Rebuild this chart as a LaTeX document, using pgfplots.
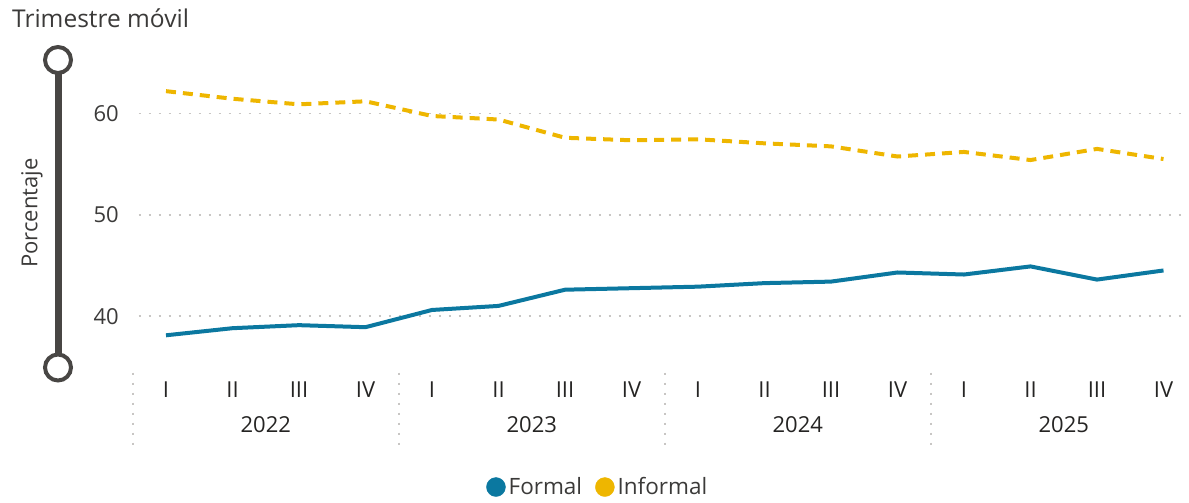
\documentclass[border=0pt]{standalone}
\usepackage{pgfplots}
\pgfplotsset{compat=1.18}
\usepackage{fontspec}
\setmainfont{Open Sans}
\definecolor{formal}{HTML}{0B78A0}
\definecolor{informal}{HTML}{EEB600}
\definecolor{txt}{HTML}{3B3A39}
\definecolor{tick}{HTML}{252423}
\definecolor{gridc}{HTML}{C8C6C4}
\definecolor{slider}{HTML}{484644}
\begin{document}
\begin{tikzpicture}[x=1pt,y=1pt]
\useasboundingbox (0,0) rectangle (1189,503);
\node[anchor=base west, inner sep=0pt, font=\fontsize{24.5}{28}\selectfont, text=txt] at (12,475.5) {Trimestre móvil};
\draw[slider, line width=7] (58,443) -- (58,135.5);
\draw[slider, line width=4, fill=white] (58,443) circle (13);
\draw[slider, line width=4, fill=white] (58,135.5) circle (13);
\node[rotate=90, inner sep=0pt, font=\fontsize{22}{26}\selectfont, text=txt] at (32,290) {Porcentaje};
\begin{axis}[
  at={(132.75pt,136.3pt)}, anchor=south west,
  scale only axis, width=1064pt, height=303.9pt,
  xmin=-0.5, xmax=15.5, ymin=35, ymax=65,
  clip=false,
  axis line style={draw=none}, tick style={draw=none},
  xtick={0,...,15},
  xticklabels={I,II,III,IV,I,II,III,IV,I,II,III,IV,I,II,III,IV},
  ytick={40,50,60},
  /pgf/number format/assume math mode=true,
  xticklabel style={anchor=base, inner sep=0pt, yshift=-30.6pt, font=\fontsize{22}{26}\selectfont, text=tick},
  yticklabel style={anchor=base east, inner sep=0pt, xshift=-13.75pt, yshift=-8pt, font=\fontsize{22}{26}\selectfont, text=txt},
  legend style={at={(0.4375,-0.396)}, anchor=center, draw=none, fill=none,
    font=\fontsize{22.5}{26}\selectfont, text=txt, inner sep=0pt,
    nodes={inner sep=3pt},
    /tikz/every even column/.append style={column sep=10pt}},
  legend columns=2,
]
\foreach \yy in {40,50,60}{
  \edef\tmp{\noexpand\draw[gridc, line width=1.6, dash pattern=on 2 off 8] (axis cs:-0.41,\yy) -- (axis cs:15.26,\yy);}
  \tmp
}
\foreach \xx in {-0.5,3.5,7.5,11.5}{
  \edef\tmp{\noexpand\draw[gridc, line width=1.6, dash pattern=on 2 off 8] ([yshift=-6pt]axis cs:\xx,35) -- ([yshift=-78pt]axis cs:\xx,35);}
  \tmp
}
\node[anchor=base, inner sep=0pt, font=\fontsize{22}{26}\selectfont, text=tick] at ([yshift=-65.6pt]axis cs:1.5,35) {2022};
\node[anchor=base, inner sep=0pt, font=\fontsize{22}{26}\selectfont, text=tick] at ([yshift=-65.6pt]axis cs:5.5,35) {2023};
\node[anchor=base, inner sep=0pt, font=\fontsize{22}{26}\selectfont, text=tick] at ([yshift=-65.6pt]axis cs:9.5,35) {2024};
\node[anchor=base, inner sep=0pt, font=\fontsize{22}{26}\selectfont, text=tick] at ([yshift=-65.6pt]axis cs:13.5,35) {2025};
\addplot[forget plot, formal, line width=4pt, line join=round, mark=none] coordinates {
(0,38.1) (1,38.8) (2,39.1) (3,38.9) (4,40.6) (5,41.0) (6,42.6) (7,42.75)
(8,42.9) (9,43.25) (10,43.4) (11,44.3) (12,44.1) (13,44.9) (14,43.6) (15,44.5)};
\addplot[forget plot, informal, line width=4pt, dash pattern=on 10pt off 7pt, mark=none] coordinates {
(0,62.2) (1,61.45) (2,60.9) (3,61.2) (4,59.75) (5,59.4) (6,57.6) (7,57.35)
(8,57.45) (9,57.05) (10,56.75) (11,55.75) (12,56.2) (13,55.4) (14,56.5) (15,55.5)};
\addlegendimage{legend image code/.code={\fill[formal] (0pt,0pt) circle (9.5pt);}}
\addlegendentry{Formal}
\addlegendimage{legend image code/.code={\fill[informal] (0pt,0pt) circle (9.5pt);}}
\addlegendentry{Informal}
\end{axis}
\end{tikzpicture}
\end{document}
